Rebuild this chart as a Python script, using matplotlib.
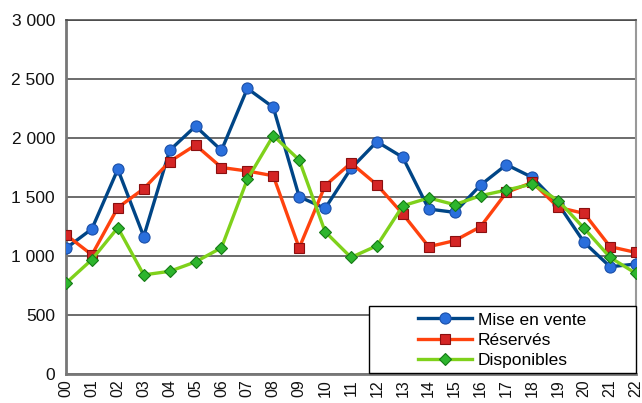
import matplotlib
matplotlib.use("Agg")
import matplotlib.pyplot as plt
from matplotlib.patches import Rectangle
from matplotlib.ticker import FuncFormatter

years = ["00", "01", "02", "03", "04", "05", "06", "07", "08", "09", "10", "11",
         "12", "13", "14", "15", "16", "17", "18", "19", "20", "21", "22"]

mise_en_vente = [1065, 1230, 1735, 1165, 1895, 2100, 1895, 2420, 2260, 1503, 1403,
                 1742, 1969, 1836, 1398, 1370, 1601, 1774, 1666, 1440, 1115, 909, 932]
reserves = [1180, 1010, 1410, 1570, 1800, 1940, 1750, 1720, 1680, 1068, 1596,
            1788, 1604, 1356, 1079, 1130, 1248, 1539, 1624, 1412, 1361, 1079, 1030]
disponibles = [770, 970, 1240, 840, 870, 950, 1070, 1650, 2020, 1814, 1206,
               988, 1087, 1426, 1492, 1435, 1511, 1559, 1610, 1469, 1234, 988, 852]

plt.rcParams['font.family'] = ['Liberation Sans', 'DejaVu Sans']

W, H = 642, 403
fig = plt.figure(figsize=(W / 100, H / 100), dpi=100)
# axes box in pixels: left 66, right 636, top 20, bottom 374
ax = fig.add_axes([66 / W, 1 - 374 / H, 570 / W, 354 / H])

x = list(range(len(years)))
ax.plot(x, mise_en_vente, color="#004586", lw=2.4, marker="o", ms=8,
        mfc="#2a6fdc", mec="#1a4fa8", mew=0.8, label="Mise en vente", zorder=3)
ax.plot(x, reserves, color="#ff420e", lw=2.4, marker="s", ms=7.5,
        mfc="#d42525", mec="#8a1010", mew=0.8, label="Réservés", zorder=3)
ax.plot(x, disponibles, color="#7fd11b", lw=2.4, marker="D", ms=6.5,
        mfc="#2db52d", mec="#157a15", mew=0.8, label="Disponibles", zorder=3)

ax.set_xlim(0, len(years) - 1)
ax.set_ylim(0, 3000)
ax.set_xticks(x)
ax.set_xticklabels(years, rotation=90)
ax.set_yticks(range(0, 3001, 500))
ax.yaxis.set_major_formatter(FuncFormatter(lambda v, p: f"{int(v):,}".replace(",", " ")))
ax.tick_params(axis="y", labelsize=12.5, length=0, pad=8, colors="#111111")
ax.tick_params(axis="x", labelsize=11.5, length=0, pad=4, colors="#111111")

ax.grid(axis="y", color="#444444", lw=1.1)
ax.set_axisbelow(True)
for side in ["left", "bottom"]:
    ax.spines[side].set_color("#777777")
    ax.spines[side].set_linewidth(2)
ax.spines["right"].set_color("#999999")
ax.spines["right"].set_linewidth(1.5)
ax.spines["top"].set_color("#444444")
ax.spines["top"].set_linewidth(1.1)

# legend frame: 369..636 x, 306..373 y (pixels)
bx0, bx1, by0, by1 = 369, 636, 306, 373
fx = lambda px: (px - 66) / 570
fy = lambda py: (374 - py) / 354
ax.add_patch(Rectangle((fx(bx0), fy(by1)), fx(bx1) - fx(bx0), fy(by0) - fy(by1),
                       transform=ax.transAxes, facecolor="white", edgecolor="black",
                       lw=1.0, zorder=4, clip_on=False))
leg = ax.legend(loc="center", bbox_to_anchor=(fx(502), fy(340)), fontsize=12.5,
                frameon=False, handlelength=3.1, handletextpad=0.35,
                labelspacing=0.28, borderpad=0, markerscale=1.0)
leg.set_zorder(5)

fig.savefig("out.png", dpi=100)
